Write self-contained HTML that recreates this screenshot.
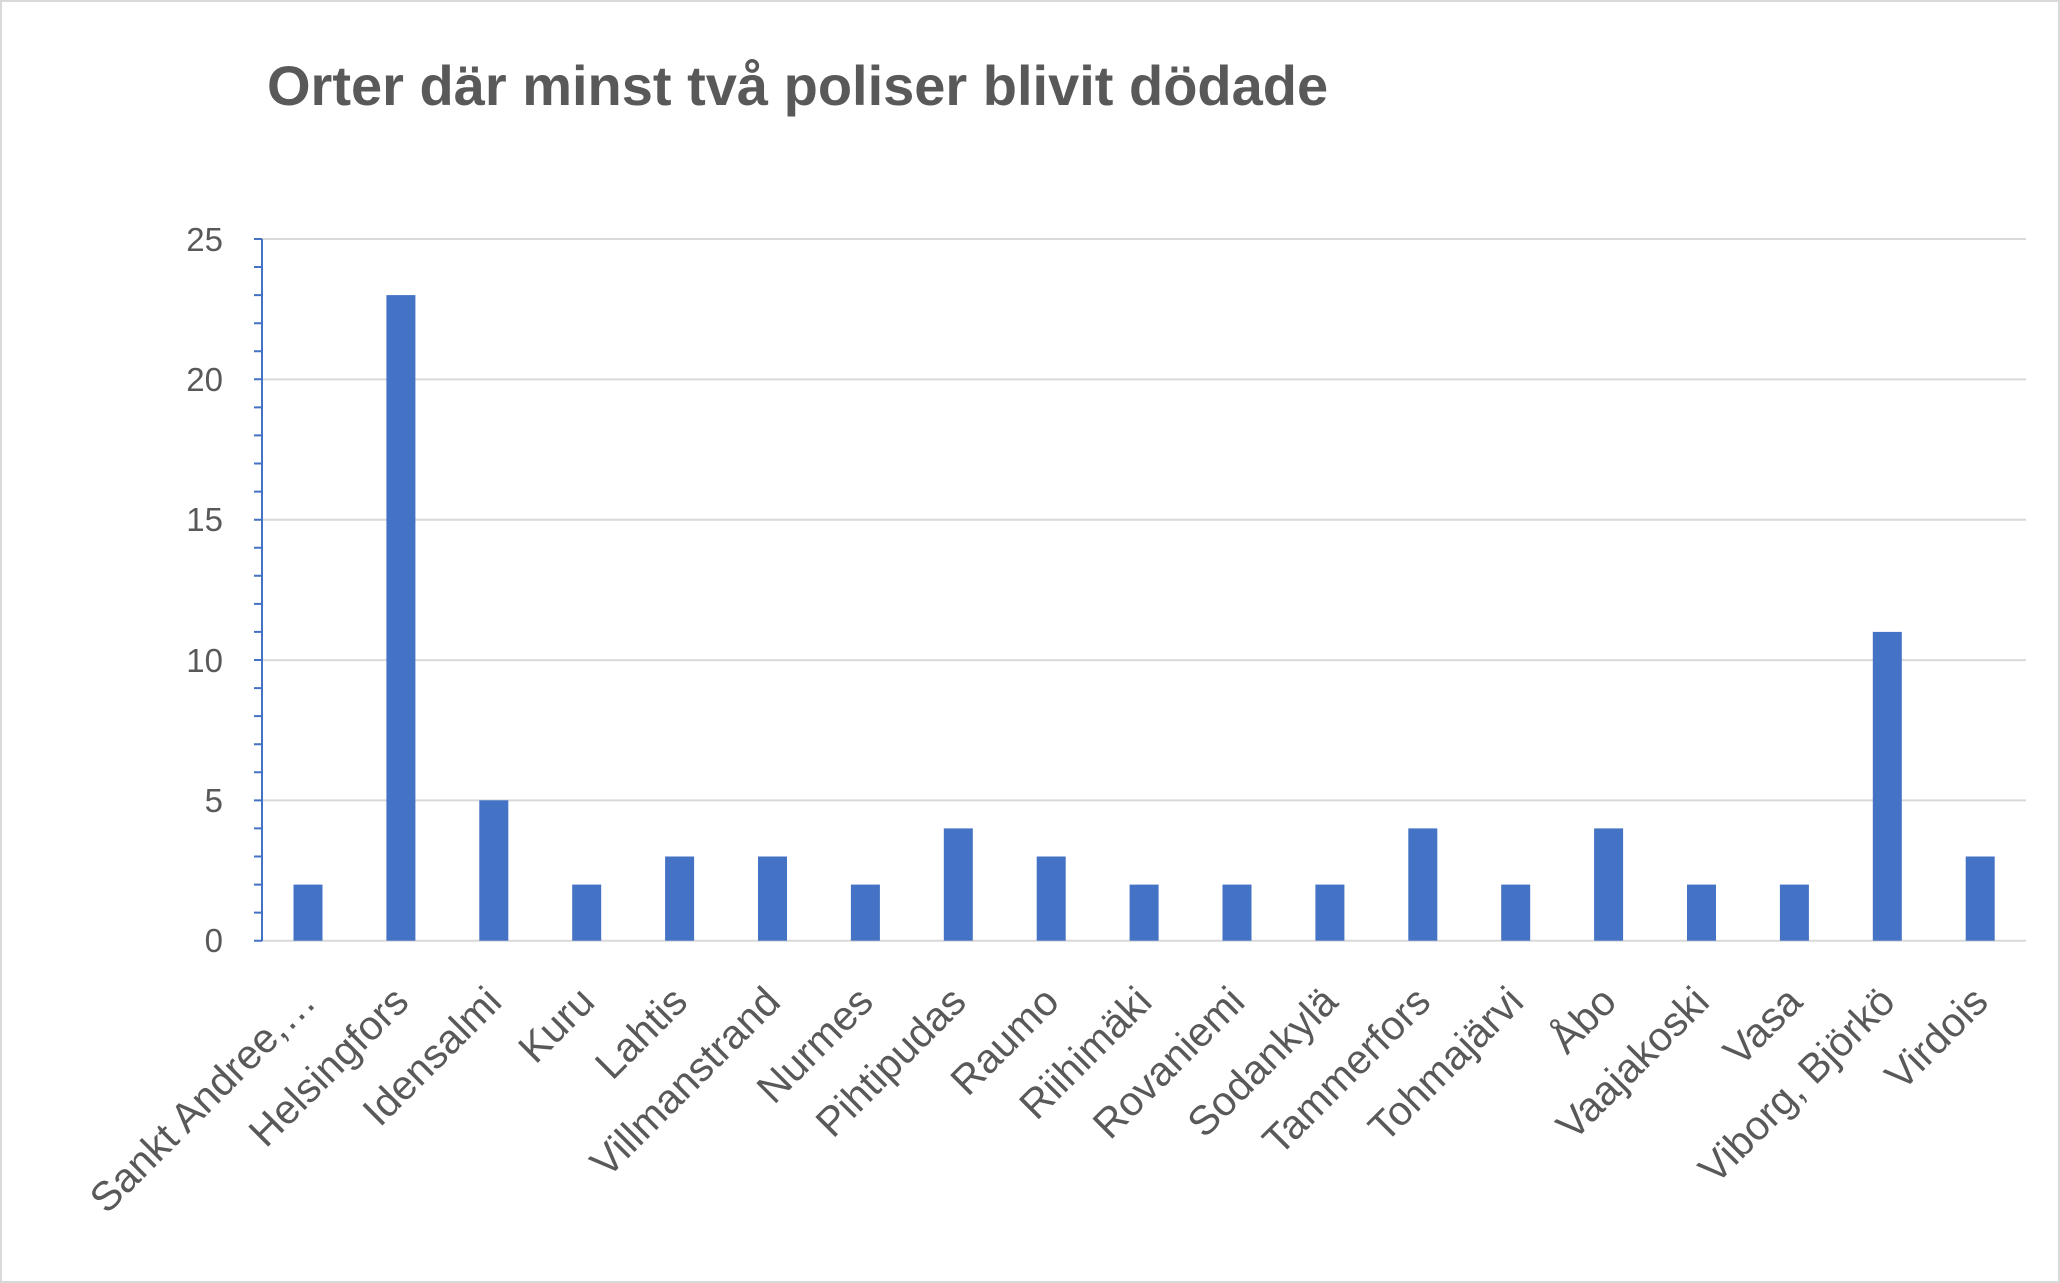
<!DOCTYPE html>
<html><head><meta charset="utf-8"><style>
html,body{margin:0;padding:0;background:#fff;}
svg{display:block;}
text{font-family:"Liberation Sans","DejaVu Sans",sans-serif;}
</style></head><body>
<svg width="2060" height="1283" viewBox="0 0 2060 1283" xmlns="http://www.w3.org/2000/svg">
<rect x="1" y="1" width="2058" height="1281" fill="#fff" stroke="#d9d9d9" stroke-width="2"/>
<text x="267" y="105" font-size="56" font-weight="bold" fill="#595959">Orter där minst två poliser blivit dödade</text>
<g stroke="#d9d9d9" stroke-width="2">
<line x1="261" y1="239" x2="2026" y2="239"/>
<line x1="261" y1="379.4" x2="2026" y2="379.4"/>
<line x1="261" y1="519.7" x2="2026" y2="519.7"/>
<line x1="261" y1="660.1" x2="2026" y2="660.1"/>
<line x1="261" y1="800.4" x2="2026" y2="800.4"/>
<line x1="261" y1="940.7" x2="2026" y2="940.7"/>
</g>
<g font-size="33" fill="#595959" text-anchor="end">
<text x="223" y="251">25</text>
<text x="223" y="391">20</text>
<text x="223" y="531">15</text>
<text x="223" y="672">10</text>
<text x="223" y="812">5</text>
<text x="223" y="952">0</text>
</g>
<g fill="#4472c4">
<rect x="293.5" y="884.6" width="29" height="56.1"/>
<rect x="386.4" y="295.1" width="29" height="645.6"/>
<rect x="479.3" y="800.3" width="29" height="140.4"/>
<rect x="572.2" y="884.6" width="29" height="56.1"/>
<rect x="665.1" y="856.5" width="29" height="84.2"/>
<rect x="758.0" y="856.5" width="29" height="84.2"/>
<rect x="850.9" y="884.6" width="29" height="56.1"/>
<rect x="943.8" y="828.4" width="29" height="112.3"/>
<rect x="1036.7" y="856.5" width="29" height="84.2"/>
<rect x="1129.6" y="884.6" width="29" height="56.1"/>
<rect x="1222.5" y="884.6" width="29" height="56.1"/>
<rect x="1315.4" y="884.6" width="29" height="56.1"/>
<rect x="1408.3" y="828.4" width="29" height="112.3"/>
<rect x="1501.2" y="884.6" width="29" height="56.1"/>
<rect x="1594.1" y="828.4" width="29" height="112.3"/>
<rect x="1687.0" y="884.6" width="29" height="56.1"/>
<rect x="1779.9" y="884.6" width="29" height="56.1"/>
<rect x="1872.8" y="631.9" width="29" height="308.8"/>
<rect x="1965.7" y="856.5" width="29" height="84.2"/>
</g>
<g stroke="#4472c4" stroke-width="2">
<line x1="262" y1="239" x2="262" y2="941"/>
<path d="M254 940.7H262M254 912.6H262M254 884.6H262M254 856.5H262M254 828.4H262M254 800.4H262M254 772.3H262M254 744.2H262M254 716.1H262M254 688.1H262M254 660H262M254 631.9H262M254 603.9H262M254 575.8H262M254 547.7H262M254 519.7H262M254 491.6H262M254 463.5H262M254 435.4H262M254 407.4H262M254 379.3H262M254 351.2H262M254 323.2H262M254 295.1H262M254 267H262M254 239H262"/>
</g>
<g font-size="41" fill="#595959" text-anchor="end">
<text transform="translate(318,1004) rotate(-45)">Sankt Andree,…</text>
<text transform="translate(410.9,1004) rotate(-45)">Helsingfors</text>
<text transform="translate(503.8,1004) rotate(-45)">Idensalmi</text>
<text transform="translate(596.7,1004) rotate(-45)">Kuru</text>
<text transform="translate(689.6,1004) rotate(-45)">Lahtis</text>
<text transform="translate(782.5,1004) rotate(-45)">Villmanstrand</text>
<text transform="translate(875.4,1004) rotate(-45)">Nurmes</text>
<text transform="translate(968.3,1004) rotate(-45)">Pihtipudas</text>
<text transform="translate(1061.2,1004) rotate(-45)">Raumo</text>
<text transform="translate(1154.1,1004) rotate(-45)">Riihimäki</text>
<text transform="translate(1247,1004) rotate(-45)">Rovaniemi</text>
<text transform="translate(1339.9,1004) rotate(-45)">Sodankylä</text>
<text transform="translate(1432.8,1004) rotate(-45)">Tammerfors</text>
<text transform="translate(1525.7,1004) rotate(-45)">Tohmajärvi</text>
<text transform="translate(1618.6,1004) rotate(-45)">Åbo</text>
<text transform="translate(1711.5,1004) rotate(-45)">Vaajakoski</text>
<text transform="translate(1804.4,1004) rotate(-45)">Vasa</text>
<text transform="translate(1897.3,1004) rotate(-45)">Viborg, Björkö</text>
<text transform="translate(1990.2,1004) rotate(-45)">Virdois</text>
</g>
</svg>
</body></html>
